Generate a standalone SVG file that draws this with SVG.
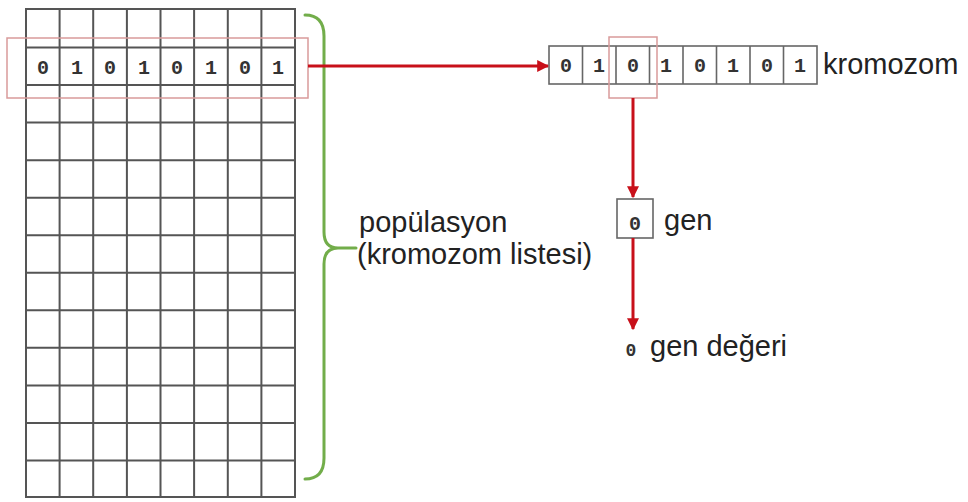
<svg xmlns="http://www.w3.org/2000/svg" width="968" height="502" viewBox="0 0 968 502">
<defs>
<style>
.grid{stroke:#555;stroke-width:2;fill:none}
.cell{stroke:#666;stroke-width:1.6;fill:#fff}
.hl{stroke:#d99a9a;stroke-width:1.5;fill:none}
.bit{font-family:"Liberation Mono","Courier New",monospace;font-weight:bold;font-size:20px;fill:#333;text-anchor:middle}
.lbl{font-family:"Liberation Sans",Arial,sans-serif;font-size:29px;fill:#222}
.arr{stroke:#c8101a;stroke-width:3;fill:none}
.brace{stroke:#72ad4a;stroke-width:3;fill:none;stroke-linecap:round}
</style>
<marker id="ah" viewBox="0 0 10 10" refX="9" refY="5" markerWidth="4" markerHeight="4" orient="auto" markerUnits="strokeWidth">
<path d="M0,0 L10,5 L0,10 Z" fill="#c8101a"/>
</marker>
</defs>
<rect width="968" height="502" fill="#fff"/>
<g id="population">
<rect x="26" y="9" width="269" height="488" class="grid"/>
<path class="grid" d="M59.6,9V497M93.2,9V497M126.9,9V497M160.5,9V497M194.1,9V497M227.8,9V497M261.4,9V497
M26,47.5H295M26,85.1H295M26,122.6H295M26,160.2H295M26,197.7H295M26,235.2H295M26,272.8H295M26,310.3H295M26,347.8H295M26,385.4H295M26,422.9H295M26,460.5H295"/>
<g class="bit">
<text x="43" y="74">0</text><text x="77" y="74">1</text><text x="110" y="74">0</text><text x="144" y="74">1</text>
<text x="177" y="74">0</text><text x="211" y="74">1</text><text x="245" y="74">0</text><text x="278" y="74">1</text>
</g>
<rect x="7" y="38" width="301" height="60" class="hl"/>
</g>
<g id="brace">
<path class="brace" d="M305,15 Q324,15 324,36 L324,232 Q324,248 338,248 L356,248 M338,248 Q324,248 324,264 L324,458 Q324,479 305,479"/>
<text class="lbl" x="359" y="232">popülasyon</text>
<text class="lbl" x="357" y="264">(kromozom listesi)</text>
</g>
<g id="chromosome">
<rect x="549" y="46" width="268" height="38" class="cell"/>
<path class="cell" d="M582.5,46V84M616,46V84M649.5,46V84M683,46V84M716.5,46V84M750,46V84M783.5,46V84"/>
<g class="bit">
<text x="566" y="72">0</text><text x="599" y="72">1</text><text x="633" y="72">0</text><text x="666" y="72">1</text>
<text x="700" y="72">0</text><text x="733" y="72">1</text><text x="767" y="72">0</text><text x="800" y="72">1</text>
</g>
<rect x="609" y="37" width="48" height="61" class="hl"/>
<text class="lbl" x="823" y="74">kromozom</text>
</g>
<g id="gene">
<rect x="617" y="199" width="36" height="39" class="cell"/>
<text class="bit" x="635" y="230">0</text>
<text class="lbl" x="664" y="230">gen</text>
</g>
<g id="gene-value">
<text class="bit" x="631" y="356" style="font-size:18px">0</text>
<text class="lbl" x="650" y="356">gen değeri</text>
</g>
<g id="connectors">
<line class="arr" x1="308" y1="66" x2="548" y2="66" marker-end="url(#ah)"/>
<line class="arr" x1="633" y1="98" x2="633" y2="197" marker-end="url(#ah)"/>
<line class="arr" x1="633" y1="238" x2="633" y2="329" marker-end="url(#ah)"/>
</g>
</svg>
